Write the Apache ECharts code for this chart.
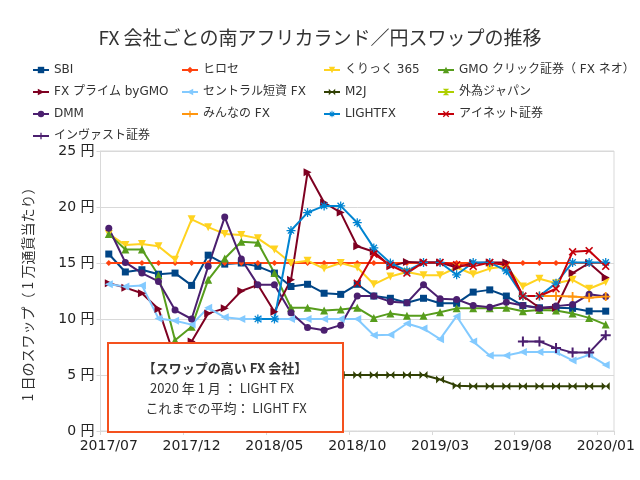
<!DOCTYPE html>
<html>
<head>
<meta charset="utf-8">
<script src="https://cdn.jsdelivr.net/npm/echarts@6/dist/echarts.min.js"></script>
<style>
html,body{margin:0;padding:0;background:#fff;}
#chart{width:640px;height:480px;}
</style>
</head>
<body>
<div id="chart"></div>
<script>
const months = ['2017/07','2017/08','2017/09','2017/10','2017/11','2017/12',
  '2018/01','2018/02','2018/03','2018/04','2018/05','2018/06','2018/07','2018/08','2018/09','2018/10','2018/11','2018/12',
  '2019/01','2019/02','2019/03','2019/04','2019/05','2019/06','2019/07','2019/08','2019/09','2019/10','2019/11','2019/12',
  '2020/01'];

const sbi = [15.8,14.2,14.4,14.0,14.1,13.0,15.7,14.9,15.0,14.7,14.1,12.9,13.1,12.3,12.2,13.1,12.05,11.85,11.45,11.85,11.4,11.4,12.4,12.6,12.05,11.2,11.0,11.0,10.95,10.7,10.7];
const hirose = [15,15,15,15,15,15,15,15,15,15,15,15,15,15,15,15,15,15,15,15,15,15,15,15,15,15,15,15,15,15,15];
const kurikku = [17.6,16.6,16.7,16.5,15.3,18.9,18.2,17.6,17.5,17.2,16.2,15.0,15.2,14.5,15.0,14.6,13.1,13.8,14.2,13.9,13.9,14.6,14.0,14.5,14.7,12.9,13.6,13.2,13.5,12.7,13.3];
const gmo = [17.6,16.2,16.2,13.9,8.1,9.3,13.5,15.4,16.9,16.8,14.1,11.0,11.0,10.75,10.85,11.0,10.1,10.5,10.3,10.3,10.6,10.95,10.95,10.95,11.0,10.7,10.8,10.75,10.5,10.1,9.5];
const prime = [13.2,12.8,12.3,10.9,6.5,8.0,10.5,10.95,12.5,13.05,10.65,13.5,23.1,20.4,19.5,16.5,16.0,14.7,15.1,15.05,15.05,14.6,15.0,15.05,15.05,12.05,11.0,11.0,14.1,15.0,13.7];
const central = [13.1,12.9,13.0,10.05,9.85,9.5,11.0,10.15,10.0,10.0,10.0,10.0,10.0,10.0,10.0,10.0,8.55,8.6,9.6,9.15,8.2,10.25,8.0,6.75,6.75,7.05,7.05,7.05,6.3,6.8,5.9];
const m2j = [null,5,5,5,5,5,5,5,5,5,5,5,5,5,5,5,5,5,5,5,4.6,4.05,4,4,4,4,4,4,4,4,4];
const gaitame = [null,null,null,null,null,null,null,null,null,null,null,null,null,null,null,null,null,null,null,null,null,null,null,null,null,null,null,null,null,null,null];
const dmm = [18.1,15.05,14.1,13.35,10.8,10.0,14.7,19.1,15.35,13.05,13.05,10.55,9.25,9.0,9.45,12.05,12.05,11.55,11.45,13.05,11.8,11.75,11.2,11.05,11.5,11.2,10.95,11.15,11.3,12.2,12.0];
const minna = [null,null,null,null,null,null,null,null,null,null,null,null,null,null,null,null,null,null,null,null,null,null,null,null,null,12.05,12.05,12.05,12.0,11.9,12.0];
const lightfx = [null,null,null,null,null,null,null,null,null,10.0,10.0,17.9,19.5,20.1,20.1,18.6,16.35,15.0,14.3,15.05,15.05,13.95,15.05,15.05,14.3,12.05,12.05,13.2,15.05,15.05,15.05];
const inet = [null,null,null,null,null,null,null,null,null,null,null,null,null,null,null,13.2,15.8,14.8,14.1,15.05,15.05,14.85,14.7,15.05,14.8,12.05,12.05,12.7,16.0,16.1,14.7];
const invast = [null,null,null,null,null,null,null,null,null,null,null,null,null,null,null,null,null,null,null,null,null,null,null,null,null,8.0,8.0,7.4,7.0,7.0,8.55];

const yTicks = [0,5,10,15,20,25];

const PLUS = 'path://M4,0L6,0L6,4L10,4L10,6L6,6L6,10L4,10L4,6L0,6L0,4L4,4Z';
const XMARK = 'path://M0,1.4L1.4,0L5,3.6L8.6,0L10,1.4L6.4,5L10,8.6L8.6,10L5,6.4L1.4,10L0,8.6L3.6,5Z';
const STAR = 'path://M4.3,0L5.7,0L5.7,4.3L10,4.3L10,5.7L5.7,5.7L5.7,10L4.3,10L4.3,5.7L0,5.7L0,4.3L4.3,4.3Z M1,2L2,1L5,4L8,1L9,2L6,5L9,8L8,9L5,6L2,9L1,8L4,5Z';
const BOWTIE = 'path://M0,0L5,5L0,10Z M10,0L5,5L10,10Z';
const HOURGLASS = 'path://M0,0L10,0L5,5Z M0,10L10,10L5,5Z';

const FONT = '"DejaVu Sans", "Noto Sans CJK JP", sans-serif';
const JFONT = '"Noto Sans CJK JP", "DejaVu Sans", sans-serif';

function mk(name, data, color, symbol, size, rot) {
  return {
    name: name, type: 'line', data: data, connectNulls: false,
    symbol: symbol, symbolSize: size, symbolRotate: rot || 0,
    showSymbol: true,
    lineStyle: { color: color, width: 2 },
    itemStyle: { color: color },
    emphasis: { disabled: true },
    animation: false
  };
}

const series = [
  mk('SBI', sbi, '#004586', 'rect', 7),
  mk('ヒロセ', hirose, '#ff420e', 'diamond', 6),
  mk('くりっく 365', kurikku, '#ffd320', 'triangle', 8, 180),
  mk('GMO クリック証券（ FX ネオ）', gmo, '#579d1c', 'triangle', 8),
  mk('FX プライム byGMO', prime, '#7e0021', 'triangle', 8, -90),
  mk('セントラル短資 FX', central, '#83caff', 'triangle', 8, 90),
  mk('M2J', m2j, '#314004', BOWTIE, 8),
  mk('外為ジャパン', gaitame, '#aecf00', HOURGLASS, 8),
  mk('DMM', dmm, '#4b1f6f', 'circle', 7),
  mk('みんなの FX', minna, '#ff950e', PLUS, 9),
  mk('LIGHTFX', lightfx, '#0084d1', STAR, 9),
  mk('アイネット証券', inet, '#c5000b', XMARK, 8),
  mk('インヴァスト証券', invast, '#4b1f6f', PLUS, 10)
];

function lg(left, names) {
  return {
    orient: 'vertical', left: left, top: 59, itemGap: 10,
    itemWidth: 16, itemHeight: 8,
    data: names, selectedMode: false,
    textStyle: { fontSize: 12, color: '#333', fontFamily: FONT }
  };
}

const option = {
  animation: false,
  title: {
    text: 'FX 会社ごとの南アフリカランド／円スワップの推移',
    left: 'center', top: 23,
    textStyle: { fontSize: 19, fontWeight: 'normal', color: '#333', fontFamily: JFONT }
  },
  legend: [
    lg(27, ['SBI', 'FX プライム byGMO', 'DMM', 'インヴァスト証券']),
    lg(176, ['ヒロセ', 'セントラル短資 FX', 'みんなの FX']),
    lg(318, ['くりっく 365', 'M2J', 'LIGHTFX']),
    lg(432, ['GMO クリック証券（ FX ネオ）', '外為ジャパン', 'アイネット証券'])
  ],
  grid: { left: 100.5, right: 26, top: 151, bottom: 49, show: true, borderColor: '#d9d9d9', borderWidth: 1, containLabel: false },
  xAxis: {
    type: 'category', data: months, boundaryGap: true,
    axisLine: { lineStyle: { color: '#d9d9d9' } },
    axisTick: { show: true, interval: 4, length: 4, lineStyle: { color: '#d9d9d9' } },
    axisLabel: { interval: 4, fontSize: 14, color: '#222', margin: 8, fontFamily: FONT },
    splitLine: { show: false }
  },
  yAxis: {
    type: 'value', min: yTicks[0], max: yTicks[yTicks.length - 1], interval: 5,
    name: '1 日のスワップ（ 1 万通貨当たり）',
    nameLocation: 'middle', nameRotate: 90, nameGap: 66,
    nameTextStyle: { fontSize: 14, color: '#333', fontFamily: JFONT },
    axisLine: { show: true, lineStyle: { color: '#d9d9d9' } },
    axisTick: { show: true, length: 4, lineStyle: { color: '#d9d9d9' } },
    axisLabel: { formatter: '{value} 円', fontSize: 14, color: '#222', margin: 6, fontFamily: FONT },
    splitLine: { lineStyle: { color: '#d9d9d9' } }
  },
  series: series,
  graphic: [
    { type: 'rect', z: 100, shape: { x: 108, y: 343, width: 235, height: 89 },
      style: { fill: '#fff', stroke: '#f4511e', lineWidth: 2 } },
    { type: 'text', z: 101, x: 225, y: 368,
      style: { text: '【スワップの高い FX 会社】', fontSize: 13, fontWeight: 'bold', fontFamily: JFONT, fill: '#333', align: 'center', verticalAlign: 'middle', textAlign: 'center', textVerticalAlign: 'middle' } },
    { type: 'text', z: 101, x: 222, y: 388,
      style: { text: '2020 年 1 月 ： LIGHT FX', fontSize: 13, fontFamily: JFONT, fill: '#333', align: 'center', verticalAlign: 'middle', textAlign: 'center', textVerticalAlign: 'middle' } },
    { type: 'text', z: 101, x: 226, y: 408,
      style: { text: 'これまでの平均： LIGHT FX', fontSize: 13, fontFamily: JFONT, fill: '#333', align: 'center', verticalAlign: 'middle', textAlign: 'center', textVerticalAlign: 'middle' } }
  ]
};

const chart = echarts.init(document.getElementById('chart'), null, { renderer: 'canvas' });
chart.setOption(option);
</script>
</body>
</html>
